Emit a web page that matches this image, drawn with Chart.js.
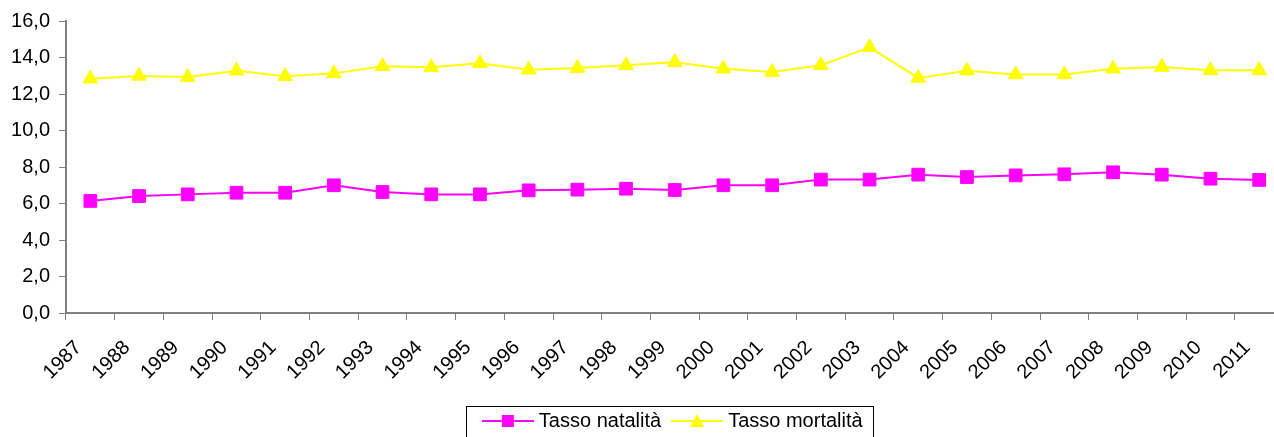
<!DOCTYPE html>
<html>
<head>
<meta charset="utf-8">
<script src="https://cdn.jsdelivr.net/npm/chart.js@4/dist/chart.umd.min.js"></script>
<style>
  html, body { margin: 0; padding: 0; background: #fff; overflow: hidden; }
  #wrap { width: 1300px; height: 441px; position: relative; }
</style>
</head>
<body>
<div id="wrap"><canvas id="chart"></canvas></div>
<script>
const years = ['1987', '1988', '1989', '1990', '1991', '1992', '1993', '1994', '1995', '1996', '1997', '1998', '1999',
  '2000', '2001', '2002', '2003', '2004', '2005', '2006', '2007', '2008', '2009', '2010', '2011'];
const natalita = [6.14, 6.41, 6.50, 6.59, 6.59, 7.00, 6.63, 6.50, 6.50, 6.72, 6.76, 6.81, 6.74,
  7.00, 7.00, 7.31, 7.31, 7.58, 7.45, 7.54, 7.60, 7.71, 7.58, 7.36, 7.29];
const mortalita = [12.84, 12.99, 12.93, 13.28, 12.97, 13.13, 13.52, 13.46, 13.68, 13.33, 13.42, 13.57, 13.74,
  13.39, 13.21, 13.57, 14.56, 12.88, 13.28, 13.07, 13.07, 13.39, 13.48, 13.30, 13.30];
const seriesNames = ['Tasso natalità', 'Tasso mortalità'];
const yTicks = [0, 2, 4, 6, 8, 10, 12, 14, 16];

const FONT = { family: 'Liberation Sans, Arial, sans-serif', size: 20 };
const AXIS = '#808080';

// icona legenda: linea con il marcatore al centro
function legendIcon(color, shape) {
  const c = document.createElement('canvas');
  c.width = 52; c.height = 16;
  const g = c.getContext('2d');
  g.strokeStyle = color; g.fillStyle = color; g.lineWidth = 2;
  g.beginPath(); g.moveTo(0, 8); g.lineTo(52, 8); g.stroke();
  g.beginPath();
  if (shape === 'rect') {
    g.rect(20, 2, 12, 12);
  } else {
    g.moveTo(26, 1); g.lineTo(33, 14); g.lineTo(19, 14); g.closePath();
  }
  g.fill();
  return c;
}

const legendBorder = {
  id: 'legendBorder',
  afterDraw(chart) {
    const boxes = chart.legend && chart.legend.legendHitBoxes;
    if (!boxes || !boxes.length) return;
    const first = boxes[0], last = boxes[boxes.length - 1];
    const ctx = chart.ctx;
    ctx.save();
    ctx.strokeStyle = '#000';
    ctx.lineWidth = 1;
    ctx.strokeRect(Math.round(first.left - 21) + 0.5, Math.round(first.top - 5) + 0.5,
      Math.round(last.left + last.width + 10 - (first.left - 21)), 60);
    ctx.restore();
  }
};

new Chart(document.getElementById('chart'), {
  type: 'line',
  data: {
    labels: years,
    datasets: [{
      label: seriesNames[0],
      data: natalita,
      borderColor: '#ff00ff',
      backgroundColor: '#ff00ff',
      borderWidth: 2,
      pointStyle: 'rect',
      pointRadius: 9,
      pointHoverRadius: 9,
      pointBorderWidth: 1,
      tension: 0
    }, {
      label: seriesNames[1],
      data: mortalita,
      borderColor: '#ffff00',
      backgroundColor: '#ffff00',
      borderWidth: 2,
      pointStyle: 'triangle',
      pointRadius: 8.5,
      pointHoverRadius: 8.5,
      pointBorderWidth: 1,
      tension: 0
    }]
  },
  options: {
    responsive: true,
    maintainAspectRatio: false,
    animation: false,
    layout: { padding: { top: 21, right: 16.5, left: 0, bottom: 0 } },
    scales: {
      x: {
        offset: true,
        afterFit: s => { s.height = 83; },
        grid: { offset: true, drawOnChartArea: false, drawTicks: true, tickLength: 7, color: AXIS, lineWidth: 1 },
        border: { color: AXIS, width: 2 },
        ticks: { color: '#000', font: FONT, minRotation: 45, maxRotation: 45, padding: 16, labelOffset: -12, autoSkip: false }
      },
      y: {
        min: 0, max: 16,
        afterFit: s => { s.width = 66; },
        afterBuildTicks: s => { s.ticks = yTicks.map(v => ({ value: v })); },
        grid: { drawOnChartArea: false, drawTicks: true, tickLength: 7, color: AXIS, lineWidth: 1 },
        border: { color: AXIS, width: 2 },
        ticks: { color: '#000', font: FONT, padding: 9, callback: v => v.toFixed(1).replace('.', ',') }
      }
    },
    plugins: {
      legend: {
        position: 'bottom',
        fullSize: false,
        labels: {
          font: FONT,
          color: '#000',
          usePointStyle: true,
          pointStyleWidth: 42,
          padding: 15,
          generateLabels: chart => chart.data.datasets.map((ds, i) => ({
            text: ds.label,
            pointStyle: legendIcon(ds.borderColor, ds.pointStyle),
            fillStyle: ds.backgroundColor,
            strokeStyle: ds.borderColor,
            lineWidth: 0,
            hidden: false,
            datasetIndex: i
          }))
        }
      },
      tooltip: { enabled: false }
    }
  },
  plugins: [legendBorder]
});
</script>
</body>
</html>
